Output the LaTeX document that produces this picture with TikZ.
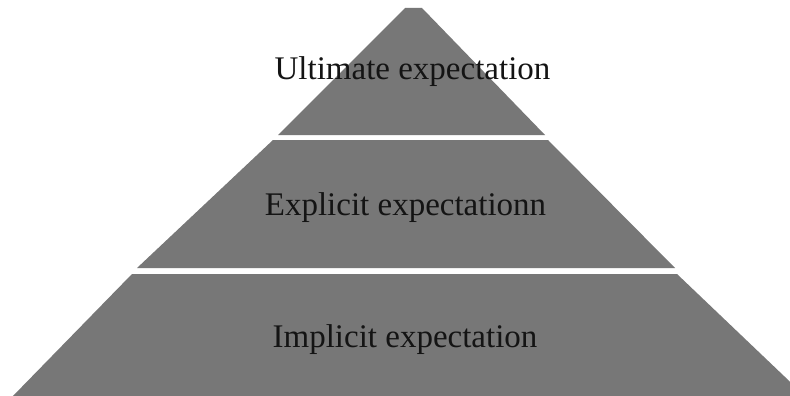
\documentclass[tikz,border=0pt]{standalone}
\usepackage{fontspec}
\setmainfont{Liberation Serif}
\definecolor{tiergray}{RGB}{119,119,119}
\definecolor{textdark}{RGB}{20,20,20}
\begin{document}
\begin{tikzpicture}[x=1pt,y=-1pt,
  tier/.style={fill=tiergray,draw=none},
  label/.style={font=\fontsize{33}{36}\selectfont,text=textdark,anchor=base,inner sep=0pt}]
\useasboundingbox (0,0) rectangle (790,396);
\clip (0,0) rectangle (790,396);
\fill[white] (0,0) rectangle (790,396);
% top tier
\path[tier] (405,8) -- (422,8) -- (545,135) -- (278,135) -- cycle;
% middle tier
\path[tier] (273,140) -- (548,140) -- (675,268) -- (137,268) -- cycle;
% bottom tier
\path[tier] (132,274) -- (677,274) -- (806,397) -- (12,397) -- cycle;
\node[label] (ultimate) at (412.5,79) {Ultimate expectation};
\node[label] (explicit) at (405.5,215) {Explicit expectationn};
\node[label] (implicit) at (405,347) {Implicit expectation};
\end{tikzpicture}
\end{document}
